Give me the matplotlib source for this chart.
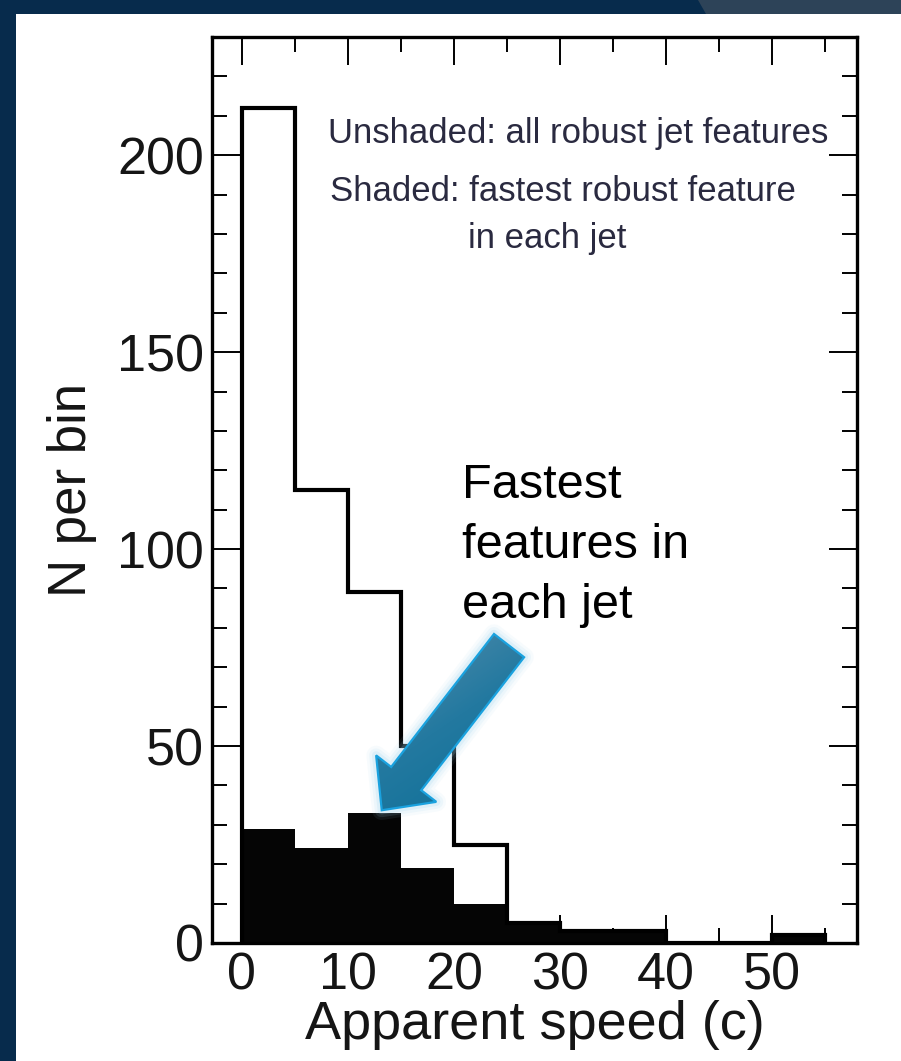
import numpy as np
import matplotlib
matplotlib.use("Agg")
import matplotlib.pyplot as plt
from matplotlib.patches import Polygon, Rectangle
from matplotlib.colors import LinearSegmentedColormap

# Histogram of apparent jet speeds (bins of 5 c)
bin_edges = [0, 5, 10, 15, 20, 25, 30, 35, 40, 45, 50, 55]
all_robust = [212, 115, 89, 50, 25, 5, 3, 3, 0, 0, 2]
fastest_per_jet = [29, 24, 33, 19, 10, 5, 3, 3, 0, 0, 2]

x_ticks = [0, 10, 20, 30, 40, 50]
y_ticks = [0, 50, 100, 150, 200]

W, H = 901, 1061
plt.rcParams['font.family'] = ['Liberation Sans', 'DejaVu Sans']

fig = plt.figure(figsize=(W / 100, H / 100), dpi=100)
fig.patch.set_facecolor('#072b4c')

# slide background: white panel and the grey tab at the top right
fig.patches.append(Rectangle((16 / W, 0), 1 - 16 / W, 1 - 14 / H,
                             transform=fig.transFigure, facecolor='white',
                             edgecolor='none', zorder=-2))
fig.patches.append(Polygon([(698 / W, 1), (1, 1), (1, 1 - 14 / H), (706 / W, 1 - 14 / H)],
                           closed=True, transform=fig.transFigure,
                           facecolor='#2d4358', edgecolor='none', zorder=-2))

ax = fig.add_axes([212 / W, 1 - 943 / H, (857 - 212) / W, (943 - 37) / H])
ax.set_facecolor('white')

ax.stairs(fastest_per_jet, bin_edges, fill=True, color='#050505', zorder=2)
ax.stairs(all_robust, bin_edges, baseline=0, color='black', linewidth=3.0, zorder=3)

ax.set_xlim(-2.8, 58)
ax.set_ylim(0, 230)
ax.set_xticks(x_ticks)
ax.set_yticks(y_ticks)
ax.set_xticks(np.arange(5, 56, 10), minor=True)
ax.set_yticks([v for v in range(0, 231, 10) if v % 50], minor=True)

ax.tick_params(which='both', direction='in', top=True, right=True,
               width=1.4, color='black')
ax.tick_params(which='major', length=20, labelsize=37.5, pad=6, labelcolor='#151515')
ax.tick_params(which='minor', length=11)
for s in ax.spines.values():
    s.set_linewidth(2.4)
    s.set_zorder(4)

ax.set_xlabel('Apparent speed (c)', fontsize=39, color='#151515', labelpad=0)
ax.set_ylabel('N per bin', fontsize=38, color='#151515', labelpad=14)

note_color = '#2a2a40'
ax.text(8.1, 203, 'Unshaded: all robust jet features', fontsize=25,
        color=note_color, va='baseline', ha='left', zorder=5)
ax.text(8.3, 188.3, 'Shaded: fastest robust feature', fontsize=25,
        color=note_color, va='baseline', ha='left', zorder=5)
ax.text(21.3, 176.4, 'in each jet', fontsize=25,
        color=note_color, va='baseline', ha='left', zorder=5)

for txt, yb in [('Fastest', 113), ('features in', 97.8), ('each jet', 82.6)]:
    ax.text(20.8, yb, txt, fontsize=35, color='black', va='baseline',
            ha='left', zorder=5)

# Callout arrow drawn on a full-figure overlay in pixel units (y down)
ov = fig.add_axes([0, 0, 1, 1], zorder=10)
ov.set_xlim(0, W)
ov.set_ylim(H, 0)
ov.axis('off')

fig.canvas.draw()
def to_px(x, y):
    dx, dy = ax.transData.transform((x, y))
    return np.array([dx, H - dy])

tip = to_px(13.2, 33.7)
tail = to_px(25.2, 75.5)
d = tip - tail
L = np.hypot(*d)
u = d / L
n = np.array([-u[1], u[0]])
shaft_w, head_w, head_len = 38.0, 76.0, 40.0
base = tip - u * head_len
pts = np.array([
    tail + n * shaft_w / 2,
    base + n * shaft_w / 2,
    base + n * head_w / 2,
    tip,
    base - n * head_w / 2,
    base - n * shaft_w / 2,
    tail - n * shaft_w / 2,
])

# soft glow around the arrow
for lw, a in [(14, 0.08), (10, 0.12), (6, 0.2)]:
    ov.add_patch(Polygon(pts, closed=True, facecolor='none',
                         edgecolor='#9fd3ef', linewidth=lw, alpha=a,
                         joinstyle='round'))

# gradient fill clipped to the arrow outline
x0, y0 = pts.min(axis=0) - 2
x1, y1 = pts.max(axis=0) + 2
gx, gy = np.meshgrid(np.linspace(x0, x1, 200), np.linspace(y0, y1, 200))
proj = (gx - tip[0]) * n[0] + (gy - tip[1]) * n[1]
t = (proj - proj.min()) / (proj.max() - proj.min())
along = ((gx - tip[0]) * u[0] + (gy - tip[1]) * u[1])
t = np.clip(0.75 * t + 0.25 * (1 - (along - along.min()) / (along.max() - along.min())), 0, 1)
cmap = LinearSegmentedColormap.from_list('arrowfill', ['#0a6e96', '#2379a0', '#5a8fac'])
arrow_patch = Polygon(pts, closed=True, facecolor='none', edgecolor='#1aa2df',
                      linewidth=1.6, zorder=3)
im = ov.imshow(t, extent=(x0, x1, y1, y0), cmap=cmap, origin='upper',
               interpolation='bilinear', zorder=2, aspect='auto')
ov.add_patch(arrow_patch)
im.set_clip_path(arrow_patch)
ov.set_xlim(0, W)
ov.set_ylim(H, 0)

fig.savefig('out.png', dpi=100, facecolor=fig.get_facecolor())
